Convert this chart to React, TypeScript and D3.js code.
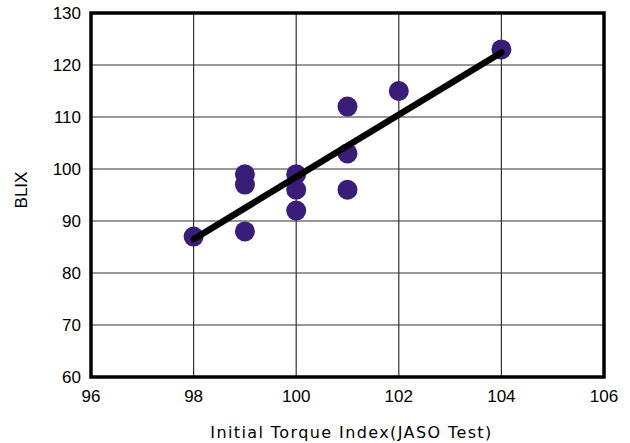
import React from "react";
import * as d3 from "d3";

const xTicks = [96, 98, 100, 102, 104, 106];
const yTicks = [60, 70, 80, 90, 100, 110, 120, 130];
const pointX = [98, 99, 99, 99, 100, 100, 100, 101, 101, 101, 102, 104];
const pointY = [87, 88, 97, 99, 92, 96, 99, 96, 103, 112, 115, 123];
const fitX = [98, 104];
const fitY = [86.5, 122.4];
const xTitle = "Initial Torque Index(JASO Test)";
const yTitle = "BLIX";

export default function App() {
  const W = 630, H = 443;
  const left = 91, right = 604, top = 13, bottom = 377;
  const x = d3.scaleLinear().domain([96, 106]).range([left, right]);
  const y = d3.scaleLinear().domain([60, 130]).range([bottom, top]);
  const line = d3.line<number>().x((d) => x(fitX[d])).y((d) => y(fitY[d]));
  const tickFont = "'Liberation Sans', Arial, sans-serif";
  const titleFont = "'DejaVu Sans', sans-serif";
  return (
    <svg width={W} height={H} style={{ position: "absolute", left: 0, top: 0, background: "#fff" }}>
      {xTicks.slice(1, -1).map((t) => (
        <line key={"gx" + t} x1={x(t)} x2={x(t)} y1={top} y2={bottom} stroke="#333" strokeWidth={1.2} />
      ))}
      {yTicks.slice(1, -1).map((t) => (
        <line key={"gy" + t} x1={left} x2={right} y1={y(t)} y2={y(t)} stroke="#333" strokeWidth={1.2} />
      ))}
      <rect x={left} y={top} width={right - left} height={bottom - top} fill="none" stroke="#000" strokeWidth={3.5} />
      {pointX.map((px, i) => (
        <circle key={"p" + i} cx={x(px)} cy={y(pointY[i])} r={10} fill="#3a1d78" />
      ))}
      <path d={line([0, 1]) || ""} stroke="#000" strokeWidth={6.5} fill="none" strokeLinecap="round" />
      {xTicks.map((t) => (
        <text key={"tx" + t} x={x(t)} y={bottom + 25} textAnchor="middle" fontFamily={tickFont} fontSize={17} fill="#000">
          {t}
        </text>
      ))}
      {yTicks.map((t) => (
        <text key={"ty" + t} x={left - 10} y={y(t) + 6} textAnchor="end" fontFamily={tickFont} fontSize={17} fill="#000">
          {t}
        </text>
      ))}
      <text x={(left + right) / 2 + 4} y={438} textAnchor="middle" fontFamily={titleFont} fontSize={16} letterSpacing={1.4} fill="#000">
        {xTitle}
      </text>
      <text transform={`translate(27,190) rotate(-90)`} textAnchor="middle" fontFamily={tickFont} fontSize={17} fill="#000">
        {yTitle}
      </text>
    </svg>
  );
}
